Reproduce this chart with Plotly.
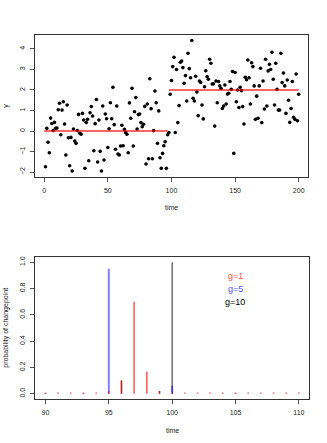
import plotly.graph_objects as go

# top panel: simulated series with a mean shift
time = list(range(1, 201))
y = [
    -1.74, 0.13, -0.55, -1.06, 0.63, 0.37, 0.02, 0.42, 0.13, 0.15,
    1.04, 1.35, -0.18, 1.02, 1.43, 0.34, -1.17, 1.27, -0.33, -1.69,
    -0.31, -1.95, 0.10, -0.49, -0.60, 0.02, 0.81, -0.11, -0.16, 0.86,
    0.54, -1.82, 0.41, 0.57, -1.45, 0.89, 1.19, 0.73, -0.96, 0.36,
    1.54, -1.51, 0.54, -0.99, -1.95, 1.22, -1.41, 0.83, 0.60, -0.80,
    0.11, 1.38, 0.60, 2.13, 0.31, -0.89, 1.22, -1.12, -1.17, -0.73,
    0.28, -0.72, 0.08, -0.08, -0.16, -1.06, 1.37, 0.62, 2.08, -0.73,
    0.94, 1.63, 0.10, 0.80, 0.83, 0.41, 0.21, 0.33, 1.20, -1.61,
    1.32, -1.35, 2.55, 1.09, -1.35, 0.02, 1.95, 1.38, -0.60, 0.98,
    -1.30, -1.82, -1.09, -0.72, -0.52, -1.82, -0.18, -0.07, 1.79, 2.46,
    3.14, 3.59, -0.07, 3.00, 0.41, 1.24, 3.35, 3.41, 3.09, 2.33,
    2.70, 1.46, 3.79, 3.04, 2.60, 4.41, 1.60, 1.46, 2.67, 1.90,
    0.75, 2.44, 2.37, 1.27, 0.59, 2.16, 2.94, 2.65, 2.52, 3.50,
    3.30, 2.29, 2.30, 0.24, 2.44, 1.38, 2.41, 2.20, 2.07, 1.10,
    1.22, 2.24, 1.32, 1.80, 1.84, 2.41, 2.03, 2.90, -1.09, 2.85,
    1.43, 2.00, 1.15, 2.13, 1.97, 1.19, 0.34, 2.62, 2.50, 3.46,
    2.60, 1.32, 3.33, 3.14, 2.20, 0.57, 1.70, 0.62, 2.20, 3.06,
    0.41, 2.44, 1.07, 3.50, 1.22, 2.93, 3.25, 3.00, 3.84, 2.52,
    1.27, 3.30, 2.03, 1.02, 1.02, 3.79, 2.36, 2.83, 2.20, 0.86,
    2.49, 1.50, 0.42, 1.10, 2.41, 0.67, 0.57, 2.78, 0.50, 1.79,
]
seg_start = [0, 98]
seg_end = [97, 200]
seg_level = [0, 2]

# bottom panel: posterior probability of a changepoint
cp_time = list(range(90, 111))
prob_g1 = [0.01, 0.01, 0.01, 0.01, 0.01, 0.02, 0.10, 0.70, 0.17, 0.02, 0.005,
           0.01, 0.01, 0.01, 0.01, 0.01, 0.01, 0.01, 0.01, 0.01, 0.01]
prob_g5 = [0.005, 0, 0, 0.005, 0, 0.95, 0, 0, 0, 0, 0.06,
           0, 0, 0, 0, 0.005, 0, 0, 0, 0, 0]
prob_g10 = [0, 0, 0, 0, 0, 0, 0.10, 0, 0, 0.02, 1.0,
            0, 0, 0, 0, 0, 0, 0, 0, 0, 0]

RED = 'rgba(255,0,0,0.6)'
BLUE = 'rgba(0,0,255,0.5)'
BLACK = 'rgba(0,0,0,0.65)'
FONT = 'Liberation Sans, Arial, sans-serif'


def spikes(vals):
    xs, ys = [], []
    for t, v in zip(cp_time, vals):
        if v > 0:
            xs += [t, t, None]
            ys += [0, v, None]
    return xs, ys


fig = go.Figure()
fig.add_trace(go.Scatter(x=time, y=y, mode='markers',
                         marker=dict(color='black', size=3.6),
                         xaxis='x', yaxis='y'))
for s, e, lv in zip(seg_start, seg_end, seg_level):
    fig.add_trace(go.Scatter(x=[s, e], y=[lv, lv], mode='lines',
                             line=dict(color=RED, width=2),
                             xaxis='x', yaxis='y'))

for vals, col, w in [(prob_g10, BLACK, 1.3), (prob_g5, BLUE, 2), (prob_g1, RED, 1.7)]:
    xs, ys = spikes(vals)
    fig.add_trace(go.Scatter(x=xs, y=ys, mode='lines',
                             line=dict(color=col, width=w),
                             xaxis='x2', yaxis='y2'))

ax = dict(showline=True, mirror=True, linecolor='#333', linewidth=1,
          ticks='outside', ticklen=4, tickcolor='#555', showgrid=False,
          zeroline=False, automargin=False, tickfont=dict(size=7, color='#222'))

fig.update_layout(
    width=327, height=443,
    margin=dict(l=0, r=0, t=0, b=0),
    paper_bgcolor='white', plot_bgcolor='white',
    showlegend=False,
    font=dict(family=FONT, size=7, color='#222'),
    xaxis=dict(ax, domain=[0.108, 0.943], range=[-7, 207.6], anchor='y',
               tickvals=[0, 50, 100, 150, 200], ticklabelstandoff=3),
    yaxis=dict(ax, domain=[0.6005, 0.921], range=[-2.24, 4.68], anchor='x',
               tickvals=[-2, -1, 0, 1, 2, 3, 4], tickangle=-90, ticklabelstandoff=3),
    xaxis2=dict(ax, domain=[0.108, 0.945], range=[89.2, 110.8], anchor='y2',
                tickvals=[90, 95, 100, 105, 110], ticklabelstandoff=3),
    yaxis2=dict(ax, domain=[0.0993, 0.4199], range=[-0.04, 1.04], anchor='x2',
                tickvals=[0, 0.2, 0.4, 0.6, 0.8, 1.0],
                ticktext=['0.0', '0.2', '0.4', '0.6', '0.8', '1.0'],
                tickangle=-90, ticklabelstandoff=3),
)

ann = [
    dict(text='time', x=0.5255, y=0.531),
    dict(text='y', x=0.018, y=0.761, textangle=-90),
    dict(text='time', x=0.5265, y=0.029),
    dict(text='probability of changepoint', x=0.018, y=0.26, textangle=-90),
    dict(text='g=1', x=0.7196, y=0.3777, font=dict(size=9, color='rgba(255,0,0,0.75)')),
    dict(text='g=5', x=0.7196, y=0.3483, font=dict(size=9, color='rgba(0,0,255,0.75)')),
    dict(text='g=10', x=0.7196, y=0.319, font=dict(size=9, color='black')),
]
for a in ann:
    fig.add_annotation(xref='paper', yref='paper', showarrow=False,
                       xanchor='center', yanchor='middle', **a)

# drop the browser's default body margin so the figure sits at the page corner
fig.write_html('out.html', config={'displayModeBar': False},
               post_script="document.body.style.margin='0';")
